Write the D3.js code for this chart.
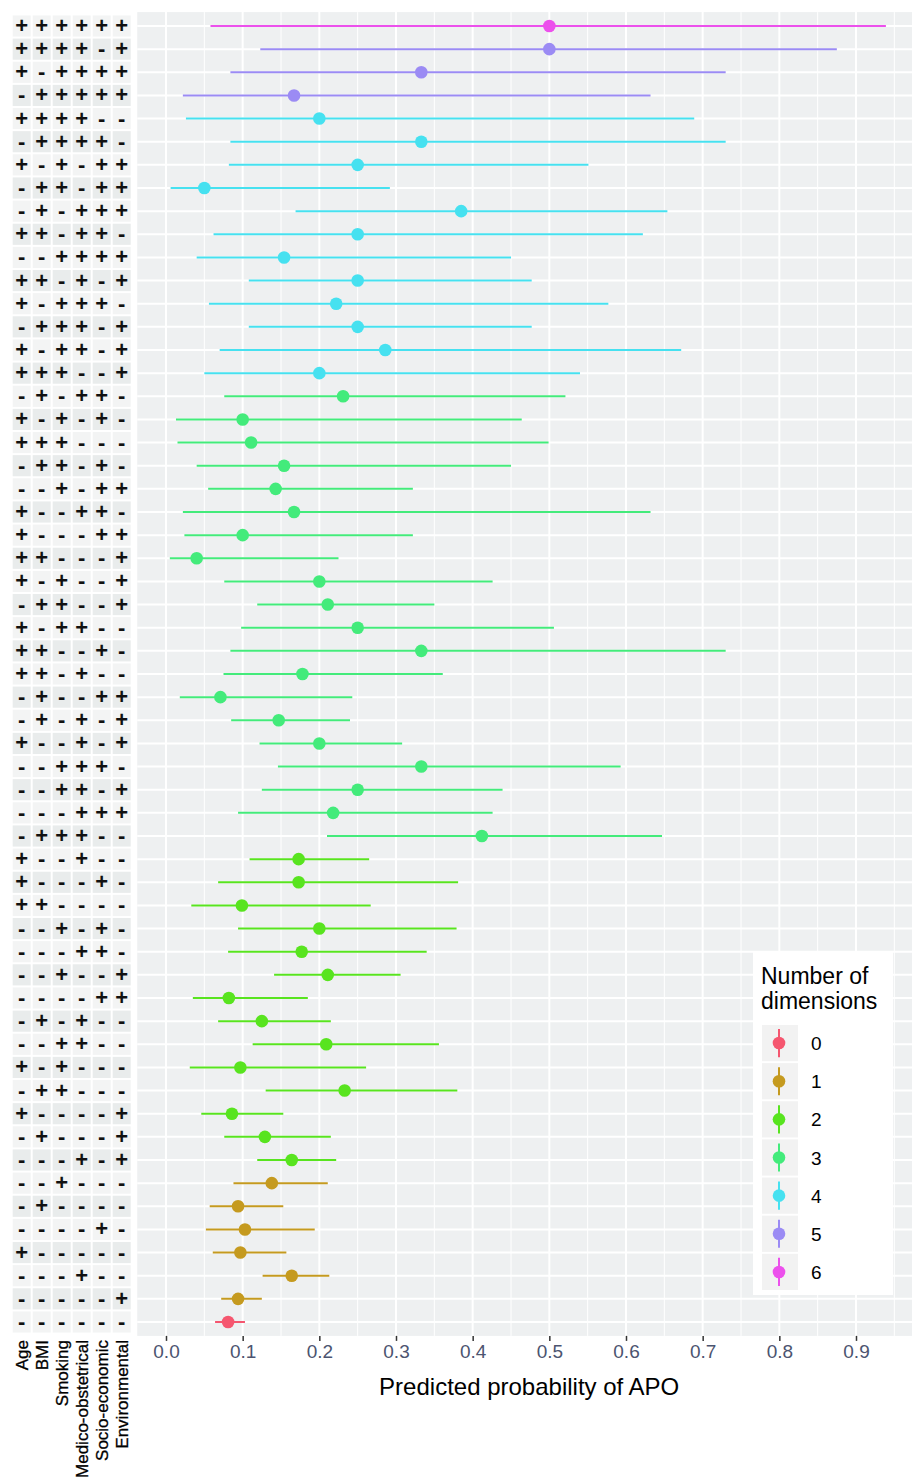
<!DOCTYPE html>
<html><head><meta charset="utf-8">
<script src="https://cdn.jsdelivr.net/npm/d3@7"></script>
<style>
html,body{margin:0;padding:0;background:#fff;}
svg{display:block;font-family:Arial,"Liberation Sans",sans-serif;}
</style></head>
<body>
<svg id="chart" width="912" height="1481"></svg>
<script>
// ---- data (top to bottom) ----
const dimensions = ["Age","BMI","Smoking","Medico-obstetrical","Socio-economic","Environmental"];
const patterns = [
"++++++","++++-+","+-++++","-+++++","++++--","-++++-","+-+-++","-++-++","-+-+++","++-++-",
"--++++","++-+-+","+-+++-","-+++-+","+-++-+","+++--+","-+-++-","+-+-+-","+++---","-++-+-",
"--+-++","+--++-","+---++","++---+","+-+--+","-++--+","+-++--","++--+-","++-+--","-+--++",
"-+-+-+","+--+-+","--+++-","--++-+","---+++","-+++--","+--+--","+---+-","++----","--+-+-",
"---++-","--+--+","----++","-+-+--","--++--","+-+---","-++---","+----+","-+---+","---+-+",
"--+---","-+----","----+-","+-----","---+--","-----+","------"];
const estimate = [
0.5,0.5,0.333,0.167,0.2,0.333,0.25,0.05,0.385,0.25,
0.154,0.25,0.222,0.25,0.286,0.2,0.231,0.1,0.111,0.154,
0.143,0.167,0.1,0.04,0.2,0.211,0.25,0.333,0.178,0.071,
0.147,0.2,0.333,0.25,0.218,0.412,0.173,0.173,0.099,0.2,
0.177,0.211,0.082,0.125,0.209,0.097,0.233,0.086,0.129,0.164,
0.138,0.094,0.103,0.097,0.164,0.094,0.081];
const lower = [
0.058,0.123,0.084,0.022,0.026,0.084,0.082,0.006,0.169,0.062,
0.040,0.108,0.056,0.108,0.070,0.050,0.076,0.013,0.015,0.040,
0.055,0.022,0.024,0.005,0.076,0.119,0.098,0.084,0.075,0.018,
0.085,0.122,0.146,0.125,0.094,0.210,0.109,0.068,0.033,0.094,
0.081,0.141,0.035,0.068,0.113,0.031,0.130,0.046,0.076,0.119,
0.088,0.057,0.052,0.061,0.126,0.072,0.064];
const upper = [
0.939,0.875,0.730,0.632,0.689,0.730,0.551,0.292,0.654,0.622,
0.450,0.477,0.577,0.477,0.672,0.540,0.521,0.464,0.499,0.450,
0.322,0.632,0.322,0.225,0.426,0.350,0.506,0.730,0.361,0.243,
0.240,0.308,0.593,0.439,0.426,0.647,0.265,0.381,0.267,0.379,
0.340,0.306,0.185,0.215,0.356,0.261,0.380,0.153,0.215,0.222,
0.211,0.153,0.194,0.157,0.213,0.125,0.103];
const xTicks = [0,0.1,0.2,0.3,0.4,0.5,0.6,0.7,0.8,0.9];
const levels = ["0","1","2","3","4","5","6"];
const levelColors = ["#F5566F","#C59A1F","#58E41F","#43EB7B","#46E1F0","#9B8BF4","#EC50EC"];

const rows = patterns.map((p,i)=>({id:i, pattern:p, n:(p.match(/\+/g)||[]).length,
  est:estimate[i], lo:lower[i], hi:upper[i]}));

const svg = d3.select("#chart");
const color = d3.scaleOrdinal().domain(levels).range(levelColors);

// scales
const x = d3.scaleLinear().domain([0,0.9]).range([166,856]);
const panelLeft = x(-0.0375), panelRight = x(0.985);
const y = d3.scalePoint().domain(rows.map(d=>d.id)).range([26,1322]);
const step = y.step();
const panelTop = y(0) - 0.6*step, panelBottom = y(rows.length-1) + 0.6*step;

// ---- main panel ----
svg.append("rect").attr("x",panelLeft).attr("y",panelTop)
  .attr("width",panelRight-panelLeft).attr("height",panelBottom-panelTop).attr("fill","#EEF0F1");
const minor = d3.range(0.05,1.0,0.1);
svg.append("g").selectAll("line").data(minor).join("line")
  .attr("x1",d=>x(d)).attr("x2",d=>x(d)).attr("y1",panelTop).attr("y2",panelBottom)
  .attr("stroke","#fff").attr("stroke-width",1);
svg.append("g").selectAll("line").data(xTicks).join("line")
  .attr("x1",d=>x(d)).attr("x2",d=>x(d)).attr("y1",panelTop).attr("y2",panelBottom)
  .attr("stroke","#fff").attr("stroke-width",2);
svg.append("g").selectAll("line").data(rows).join("line")
  .attr("x1",panelLeft).attr("x2",panelRight).attr("y1",d=>y(d.id)).attr("y2",d=>y(d.id))
  .attr("stroke","#fff").attr("stroke-width",2);

// pointranges
const pr = svg.append("g").selectAll("g").data(rows).join("g");
pr.append("line").attr("x1",d=>x(d.lo)).attr("x2",d=>x(d.hi))
  .attr("y1",d=>y(d.id)).attr("y2",d=>y(d.id))
  .attr("stroke",d=>color(String(d.n))).attr("stroke-width",2);
pr.append("circle").attr("cx",d=>x(d.est)).attr("cy",d=>y(d.id)).attr("r",6.3)
  .attr("fill",d=>color(String(d.n)));

// x axis
const xAxis = svg.append("g").attr("transform",`translate(0,${panelBottom})`)
  .call(d3.axisBottom(x).tickValues(xTicks).tickFormat(d3.format(".1f")).tickSize(5).tickPadding(4));
xAxis.select(".domain").remove();
xAxis.selectAll(".tick line").attr("stroke","#333").attr("stroke-width",1.5);
xAxis.selectAll(".tick text").attr("fill","#4C5470").attr("font-size",19)
  .attr("font-family",'Arial,"Liberation Sans",sans-serif');
svg.append("text").attr("x",(panelLeft+panelRight)/2).attr("y",1395)
  .attr("text-anchor","middle").attr("font-size",24).attr("fill","#000")
  .text("Predicted probability of APO");

// ---- left tile matrix ----
const cx = d3.scaleBand().domain(dimensions).range([11.7,131.7]);
const cells = [];
rows.forEach(r=>{ dimensions.forEach((dim,j)=>cells.push({id:r.id, dim, j, v:r.pattern[j]})); });
svg.append("g").selectAll("rect").data(cells).join("rect")
  .attr("x",d=>cx(d.dim)+1).attr("y",d=>y(d.id)-step/2+1)
  .attr("width",cx.bandwidth()-2).attr("height",step-2)
  .attr("fill",d=> d.id%2===0 ? "#F3F4F4" : "#E9ECEC");
svg.append("g").selectAll("text").data(cells).join("text")
  .attr("x",d=>cx(d.dim)+cx.bandwidth()/2).attr("y",d=>y(d.id)+7)
  .attr("text-anchor","middle").attr("font-size",22).attr("font-weight","bold")
  .attr("fill","#111").text(d=>d.v);
svg.append("g").selectAll("text").data(dimensions).join("text")
  .attr("transform",d=>`translate(${cx(d)+cx.bandwidth()/2+6.5},1340) rotate(-90)`)
  .attr("text-anchor","end").attr("font-size",17).attr("fill","#000")
  .attr("stroke","#000").attr("stroke-width",0.3).text(d=>d);

// ---- legend ----
const lg = svg.append("g");
lg.append("rect").attr("x",753).attr("y",952).attr("width",140).attr("height",343).attr("fill","#fff");
lg.append("text").attr("x",761).attr("y",984).attr("font-size",23).attr("fill","#000").text("Number of");
lg.append("text").attr("x",761).attr("y",1009).attr("font-size",23).attr("fill","#000").text("dimensions");
const ly = d3.scaleBand().domain(levels).range([1024,1291]);
const keys = lg.selectAll("g.key").data(levels).join("g").attr("class","key");
keys.append("rect").attr("x",762).attr("y",d=>ly(d)+1).attr("width",36).attr("height",ly.bandwidth()-2).attr("fill","#F2F2F2");
keys.append("line").attr("x1",779).attr("x2",779).attr("y1",d=>ly(d)+5).attr("y2",d=>ly(d)+ly.bandwidth()-5)
  .attr("stroke",d=>color(d)).attr("stroke-width",2);
keys.append("circle").attr("cx",779).attr("cy",d=>ly(d)+ly.bandwidth()/2).attr("r",6.3).attr("fill",d=>color(d));
keys.append("text").attr("x",811).attr("y",d=>ly(d)+ly.bandwidth()/2+7).attr("font-size",19).attr("fill","#000").text(d=>d);
</script>
</body></html>
